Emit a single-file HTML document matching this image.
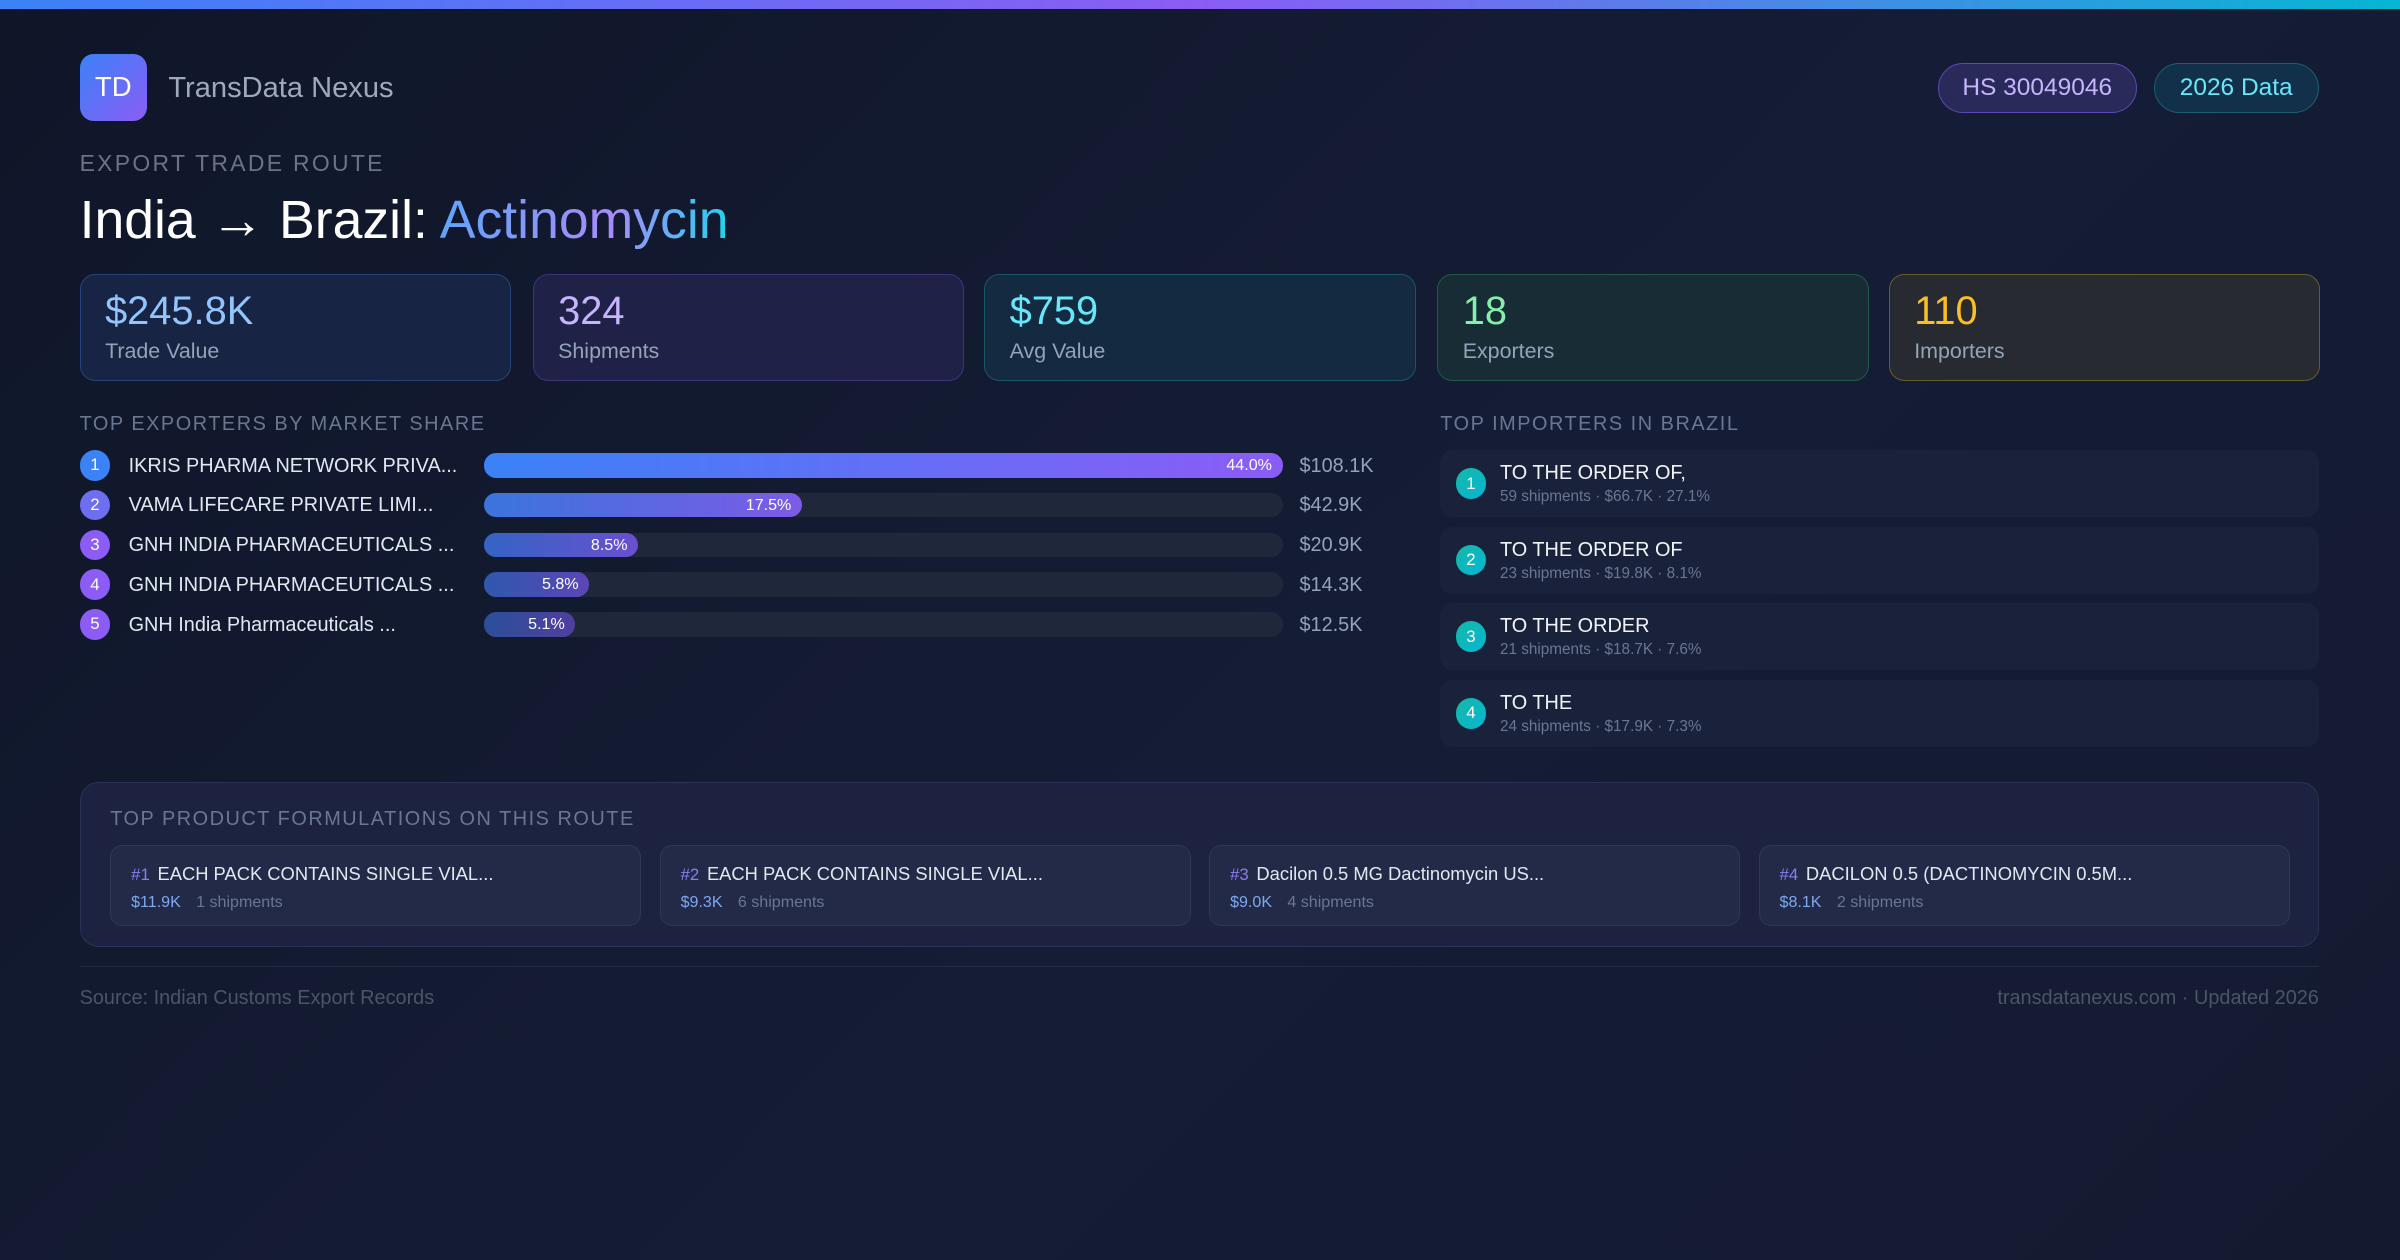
<!DOCTYPE html>
<html><head><meta charset="utf-8"><style>
*{margin:0;padding:0;box-sizing:border-box}
html,body{width:2400px;height:1260px;overflow:hidden}
body{background:#111a2e;font-family:"Liberation Sans","DejaVu Sans",sans-serif}
#w{zoom:1.5306;width:1568px;height:823px;position:relative;background:linear-gradient(135deg,#0f1628 0%,#151d36 55%,#131a30 100%)}
.a{position:absolute;white-space:nowrap}
.top{left:0;top:0;width:1568px;height:6px;background:linear-gradient(90deg,#3b82f6,#8b5cf6 50%,#06b6d4)}
.logo{left:52px;top:35px;width:44px;height:44px;border-radius:9px;background:linear-gradient(135deg,#3b82f6,#8b5cf6);color:#fff;font-size:18px;display:flex;align-items:center;justify-content:center}
.pill{top:41px;height:33px;border-radius:17px;font-size:16px;display:flex;align-items:center;justify-content:center}
.card{top:179px;width:282px;height:70px;border-radius:10px;border:1px solid}
.card .v{position:absolute;left:16px;top:9px;font-size:26px}
.card .l{position:absolute;left:16px;top:42px;font-size:14px;color:#94a3b8}
.hd{font-size:13px;letter-spacing:1px;color:#6b7690}
.circ{width:20px;height:20px;border-radius:50%;color:#fff;font-size:11px;display:flex;align-items:center;justify-content:center}
.nm{font-size:13px;color:#e2e8f0}
.track{left:316px;width:522px;height:16px;border-radius:8px;background:#1f283b}
.bar{position:absolute;left:0;top:0;height:16px;border-radius:8px;color:#fff;font-size:10.5px;text-align:right;padding-right:7px;line-height:16px}
.val{left:849px;font-size:13px;color:#94a3b8}
.imp{left:941px;width:574px;height:44px;border-radius:8px;background:#19223a}
.imp .circ{position:absolute;left:10px;top:12px;background:linear-gradient(135deg,#14b8a6,#06b6d4)}
.imp .n{position:absolute;left:39px;top:8px;font-size:13px;color:#f1f5f9}
.imp .s{position:absolute;left:39px;top:25px;font-size:10px;color:#6b7690}
.pc{top:552px;width:347px;height:53px;border-radius:8px;background:#232a47;border:1px solid #2f3757}
.pc .t{position:absolute;left:13px;top:11px;font-size:12px;color:#e2e8f0}
.pc .t b{font-weight:normal;color:#8b7cf0;margin-right:5px;font-size:11px}
.pc .s{position:absolute;left:13px;top:31px;font-size:10.5px;color:#6b7690}
.pc .s b{font-weight:normal;color:#7ea8f0;margin-right:10px}
</style></head><body><div id="w">
<div class="a top"></div>
<div class="a logo">TD</div>
<div class="a" style="left:110px;top:47px;font-size:19px;color:#a0a9bb">TransData Nexus</div>
<div class="a pill" style="left:1266px;width:130px;background:#2a2a5a;border:1px solid #5b4bb0;color:#c4b5fd">HS 30049046</div>
<div class="a pill" style="left:1407px;width:108px;background:#12304a;border:1px solid #1d5f72;color:#67e8f9">2026 Data</div>
<div class="a" style="left:52px;top:98px;font-size:15px;letter-spacing:1.5px;color:#6b7385">EXPORT TRADE ROUTE</div>
<div class="a" style="left:52px;top:124px;font-size:35px;color:#fff">India → Brazil: <span style="background:linear-gradient(90deg,#60a5fa,#a78bfa 60%,#22d3ee);-webkit-background-clip:text;color:transparent">Actinomycin</span></div>

<div class="a card" style="left:52px;background:#172443;border-color:#27447a"><div class="v" style="color:#93c5fd">$245.8K</div><div class="l">Trade Value</div></div>
<div class="a card" style="left:348px;background:#1f2246;border-color:#3c3478"><div class="v" style="color:#c4b5fd">324</div><div class="l">Shipments</div></div>
<div class="a card" style="left:643px;background:#132a40;border-color:#1b5568"><div class="v" style="color:#67e8f9">$759</div><div class="l">Avg Value</div></div>
<div class="a card" style="left:939px;background:#172c34;border-color:#1f5a44"><div class="v" style="color:#86efac">18</div><div class="l">Exporters</div></div>
<div class="a card" style="left:1234px;background:#272b31;border-color:#6b5a2c"><div class="v" style="color:#fbbf24">110</div><div class="l">Importers</div></div>

<div class="a hd" style="left:52px;top:270px">TOP EXPORTERS BY MARKET SHARE</div>
<div class="a hd" style="left:941px;top:270px">TOP IMPORTERS IN BRAZIL</div>

<div class="a circ" style="left:52px;top:294px;background:#3b82f6">1</div>
<div class="a nm" style="left:84px;top:297px">IKRIS PHARMA NETWORK PRIVA...</div>
<div class="a track" style="top:296px"><div class="bar" style="width:522px;background:linear-gradient(90deg,#3b82f6,#8b5cf6)">44.0%</div></div>
<div class="a val" style="top:297px">$108.1K</div>

<div class="a circ" style="left:52px;top:320px;background:#6d6ef0">2</div>
<div class="a nm" style="left:84px;top:323px">VAMA LIFECARE PRIVATE LIMI...</div>
<div class="a track" style="top:322px"><div class="bar" style="width:208px;background:linear-gradient(90deg,#3b74dc,#7c5be6)">17.5%</div></div>
<div class="a val" style="top:323px">$42.9K</div>

<div class="a circ" style="left:52px;top:346px;background:#8b5cf6">3</div>
<div class="a nm" style="left:84px;top:349px">GNH INDIA PHARMACEUTICALS ...</div>
<div class="a track" style="top:348px"><div class="bar" style="width:101px;background:linear-gradient(90deg,#3464c4,#6a4fd0)">8.5%</div></div>
<div class="a val" style="top:349px">$20.9K</div>

<div class="a circ" style="left:52px;top:372px;background:#8b5cf6">4</div>
<div class="a nm" style="left:84px;top:375px">GNH INDIA PHARMACEUTICALS ...</div>
<div class="a track" style="top:374px"><div class="bar" style="width:69px;background:linear-gradient(90deg,#2f58ac,#5b46b6)">5.8%</div></div>
<div class="a val" style="top:375px">$14.3K</div>

<div class="a circ" style="left:52px;top:398px;background:#8b5cf6">5</div>
<div class="a nm" style="left:84px;top:401px">GNH India Pharmaceuticals ...</div>
<div class="a track" style="top:400px"><div class="bar" style="width:60px;background:linear-gradient(90deg,#2b4f9a,#503f9c)">5.1%</div></div>
<div class="a val" style="top:401px">$12.5K</div>

<div class="a imp" style="top:294px"><div class="circ">1</div><div class="n">TO THE ORDER OF,</div><div class="s">59 shipments · $66.7K · 27.1%</div></div>
<div class="a imp" style="top:344px"><div class="circ">2</div><div class="n">TO THE ORDER OF</div><div class="s">23 shipments · $19.8K · 8.1%</div></div>
<div class="a imp" style="top:394px"><div class="circ">3</div><div class="n">TO THE ORDER</div><div class="s">21 shipments · $18.7K · 7.6%</div></div>
<div class="a imp" style="top:444px"><div class="circ">4</div><div class="n">TO THE</div><div class="s">24 shipments · $17.9K · 7.3%</div></div>

<div class="a" style="left:52px;top:511px;width:1463px;height:108px;border-radius:12px;background:#1c2240;border:1px solid #2a3256"></div>
<div class="a hd" style="left:72px;top:528px">TOP PRODUCT FORMULATIONS ON THIS ROUTE</div>
<div class="a pc" style="left:72px"><div class="t"><b>#1</b>EACH PACK CONTAINS SINGLE VIAL...</div><div class="s"><b>$11.9K</b>1 shipments</div></div>
<div class="a pc" style="left:431px"><div class="t"><b>#2</b>EACH PACK CONTAINS SINGLE VIAL...</div><div class="s"><b>$9.3K</b>6 shipments</div></div>
<div class="a pc" style="left:790px"><div class="t"><b>#3</b>Dacilon 0.5 MG Dactinomycin US...</div><div class="s"><b>$9.0K</b>4 shipments</div></div>
<div class="a pc" style="left:1149px"><div class="t"><b>#4</b>DACILON 0.5 (DACTINOMYCIN 0.5M...</div><div class="s"><b>$8.1K</b>2 shipments</div></div>

<div class="a" style="left:52px;top:631px;width:1463px;height:1px;background:#222b42"></div>
<div class="a" style="left:52px;top:645px;font-size:13px;color:#4b5468">Source: Indian Customs Export Records</div>
<div class="a" style="right:53px;top:645px;font-size:13px;color:#4b5468">transdatanexus.com · Updated 2026</div>
</div></body></html>
